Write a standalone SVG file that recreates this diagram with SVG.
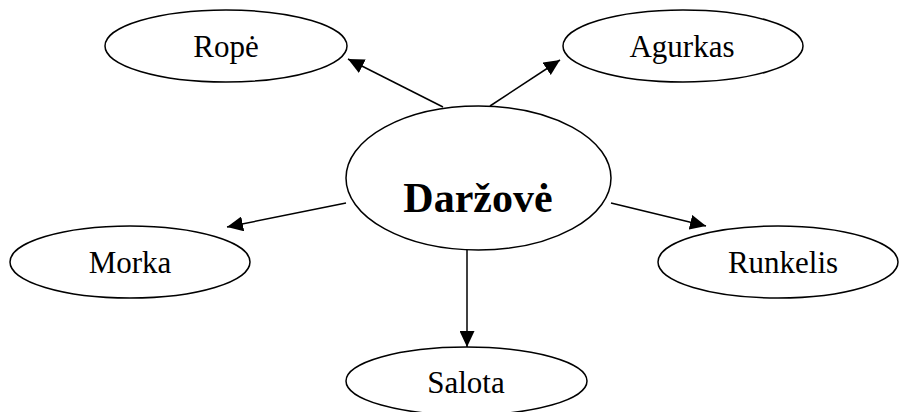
<svg xmlns="http://www.w3.org/2000/svg" width="899" height="412" viewBox="0 0 899 412">
  <style>
    .node ellipse { fill: #ffffff; stroke: #000000; stroke-width: 1.5; }
    .label { font-family: "Liberation Serif", "Times New Roman", serif; font-size: 31px; fill: #000000; text-anchor: middle; }
    .main { font-size: 42px; font-weight: bold; }
    .edge { stroke: #000000; stroke-width: 1.5; fill: none; marker-end: url(#arrow); }
  </style>
  <defs>
    <marker id="arrow" markerUnits="userSpaceOnUse" markerWidth="16" markerHeight="15" refX="16" refY="7.5" orient="auto">
      <path d="M0,0 L16,7.5 L0,15 Z" fill="#000000"/>
    </marker>
  </defs>
  <rect width="899" height="412" fill="#ffffff"/>

  <g id="connectors">
    <line class="edge" x1="443" y1="107" x2="348" y2="59"/>
    <line class="edge" x1="490" y1="106" x2="560" y2="60"/>
    <line class="edge" x1="346" y1="203" x2="227" y2="227"/>
    <line class="edge" x1="611" y1="203" x2="706" y2="226"/>
    <line class="edge" x1="467" y1="250" x2="467" y2="347"/>
  </g>

  <g id="node-darzove" class="node">
    <ellipse cx="478.5" cy="178" rx="132.5" ry="72"/>
    <text class="label main" x="478" y="212">Daržovė</text>
  </g>
  <g id="node-rope" class="node">
    <ellipse cx="226" cy="46" rx="121" ry="36"/>
    <text class="label" x="226" y="57">Ropė</text>
  </g>
  <g id="node-agurkas" class="node">
    <ellipse cx="683" cy="46" rx="120" ry="36"/>
    <text class="label" x="682" y="57">Agurkas</text>
  </g>
  <g id="node-morka" class="node">
    <ellipse cx="130" cy="262" rx="120" ry="36"/>
    <text class="label" x="130" y="273">Morka</text>
  </g>
  <g id="node-runkelis" class="node">
    <ellipse cx="778" cy="262" rx="120" ry="36"/>
    <text class="label" x="783" y="273">Runkelis</text>
  </g>
  <g id="node-salota" class="node">
    <ellipse cx="466.5" cy="381" rx="120.5" ry="34"/>
    <text class="label" x="466" y="393">Salota</text>
  </g>
</svg>
